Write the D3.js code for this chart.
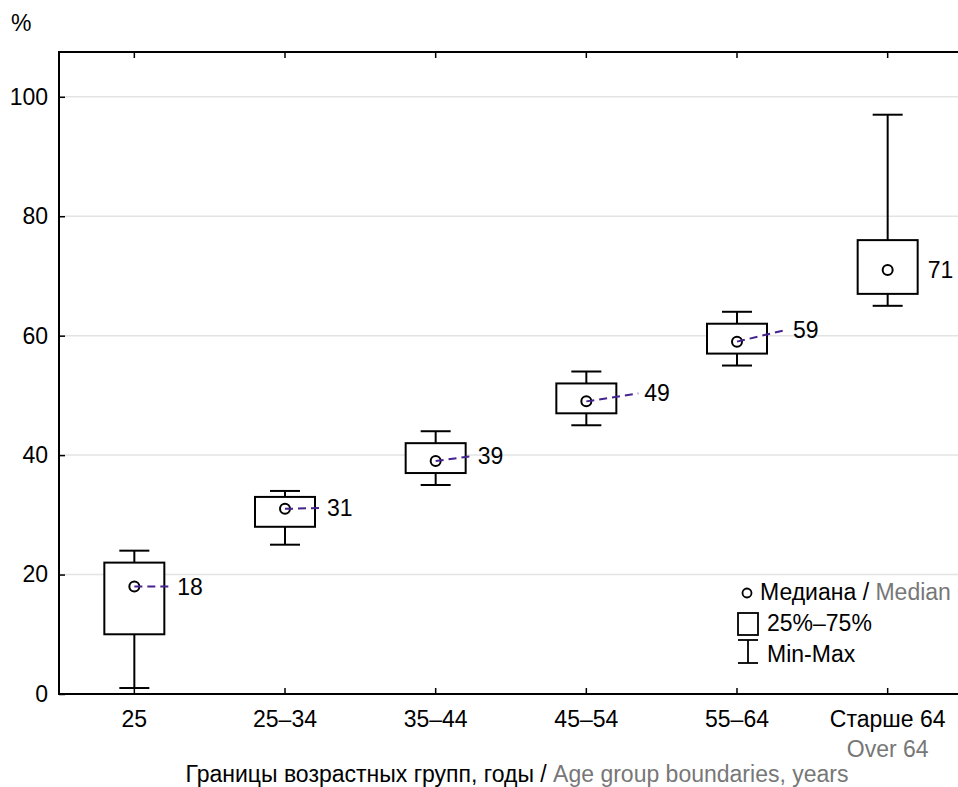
<!DOCTYPE html>
<html><head><meta charset="utf-8">
<script src="https://cdn.jsdelivr.net/npm/d3@7"></script>
<style>body{margin:0;background:#fff;} text{font-family:"Liberation Sans",Arial,sans-serif;}</style>
</head><body>
<svg id="c" width="958" height="787"></svg>
<script>
const categories = ["25", "25–34", "35–44", "45–54", "55–64", "Старше 64"];
const subLabels  = ["", "", "", "", "", "Over 64"];
const minVals    = [1, 25, 35, 45, 55, 65];
const q1Vals     = [10, 28, 37, 47, 57, 67];
const medianVals = [18, 31, 39, 49, 59, 71];
const q3Vals     = [22, 33, 42, 52, 62, 76];
const maxVals    = [24, 34, 44, 54, 64, 97];
const yTicks     = [0, 20, 40, 60, 80, 100];

// label leader layout (dx of leader end, dy) — layout, not data
const leader = [[37,0],[36,-1],[36,-5],[52,-8],[50,-12],[null,0]];

const FS = 23;
const svg = d3.select("#c");
const L = 59, R = 963, T = 52, B = 694;
const x = d3.scaleBand().domain(categories).range([L, R]).padding(0);
const y = d3.scaleLinear().domain([0, 107.5]).range([B, T]);
const cx = c => x(c) + x.bandwidth()/2;

// grid
svg.append("g").selectAll("line").data(yTicks.filter(d=>d>0)).join("line")
  .attr("x1", L).attr("x2", R).attr("y1", d=>y(d)).attr("y2", d=>y(d))
  .attr("stroke", "#e3e3e3").attr("stroke-width", 1.5);

// frame
svg.append("rect").attr("x", L).attr("y", T).attr("width", R-L).attr("height", B-T)
  .attr("fill","none").attr("stroke","#000").attr("stroke-width",2);

// y axis
const yAx = svg.append("g").attr("transform", `translate(${L},0)`)
  .call(d3.axisRight(y).tickValues(yTicks).tickSize(6).tickFormat(d3.format("d")));
yAx.select(".domain").remove();
yAx.selectAll("line").attr("stroke-width",1.5);
yAx.selectAll("text").attr("x", -11).attr("text-anchor","end").attr("font-size", FS).attr("fill","#000");

// bottom axis ticks inward
const xAx = svg.append("g").attr("transform", `translate(0,${B})`)
  .call(d3.axisTop(x).tickSize(6).tickFormat(""));
xAx.select(".domain").remove();
xAx.selectAll("line").attr("stroke-width",1.5);
const xAxT = svg.append("g").attr("transform", `translate(0,${T})`)
  .call(d3.axisBottom(x).tickSize(6).tickFormat(""));
xAxT.select(".domain").remove();
xAxT.selectAll("line").attr("stroke-width",1.5);

// category labels
svg.append("g").selectAll("text").data(categories).join("text")
  .attr("x", d=>cx(d)).attr("y", 727).attr("text-anchor","middle")
  .attr("font-size", FS).attr("fill","#000").text(d=>d);
svg.append("g").selectAll("text").data(categories.map((c,i)=>({c, s:subLabels[i]})).filter(d=>d.s)).join("text")
  .attr("x", d=>cx(d.c)).attr("y", 757).attr("text-anchor","middle")
  .attr("font-size", FS).attr("fill","#777").text(d=>d.s);

// axis title
const title = svg.append("text").attr("x", 517).attr("y", 782).attr("text-anchor","middle").attr("font-size",FS);
title.append("tspan").attr("fill","#000").text("Границы возрастных групп, годы / ");
title.append("tspan").attr("fill","#777").text("Age group boundaries, years");

svg.append("text").attr("x", 11).attr("y", 31).attr("font-size", FS).text("%");

// boxes
const bw = 60, cw = 30;
const data = categories.map((c,i)=>({c, mn:minVals[i], q1:q1Vals[i], md:medianVals[i], q3:q3Vals[i], mx:maxVals[i], ld:leader[i]}));
const g = svg.append("g").attr("stroke","#000").attr("stroke-width",2).attr("fill","none");
data.forEach(d=>{
  const X = cx(d.c);
  g.append("line").attr("x1",X).attr("x2",X).attr("y1",y(d.mx)).attr("y2",y(d.q3));
  g.append("line").attr("x1",X).attr("x2",X).attr("y1",y(d.q1)).attr("y2",y(d.mn));
  g.append("line").attr("x1",X-cw/2).attr("x2",X+cw/2).attr("y1",y(d.mx)).attr("y2",y(d.mx));
  g.append("line").attr("x1",X-cw/2).attr("x2",X+cw/2).attr("y1",y(d.mn)).attr("y2",y(d.mn));
  g.append("rect").attr("x",X-bw/2).attr("y",y(d.q3)).attr("width",bw).attr("height",y(d.q1)-y(d.q3)).attr("fill","#fff");
  g.append("circle").attr("cx",X).attr("cy",y(d.md)).attr("r",5).attr("fill","none");
  const ly = y(d.md) + d.ld[1];
  let tx;
  if (d.ld[0] !== null) {
    svg.append("line").attr("x1",X).attr("y1",y(d.md)).attr("x2",X+d.ld[0]).attr("y2",ly)
      .attr("stroke","#45228f").attr("stroke-width",2).attr("stroke-dasharray","8,5");
    tx = X + d.ld[0] + 6;
  } else {
    tx = X + 40;
  }
  svg.append("text").attr("x",tx).attr("y",ly).attr("dy","0.35em").attr("font-size",FS).attr("fill","#000").text(d.md);
});

// legend
const lg = svg.append("g");
lg.append("circle").attr("cx",747).attr("cy",593).attr("r",4.5).attr("fill","none").attr("stroke","#000").attr("stroke-width",1.8);
const lt = lg.append("text").attr("x",760).attr("y",600).attr("font-size",FS);
lt.append("tspan").attr("fill","#000").text("Медиана / ");
lt.append("tspan").attr("fill","#777").text("Median");
lg.append("rect").attr("x",738).attr("y",613).attr("width",20).attr("height",22).attr("fill","none").attr("stroke","#000").attr("stroke-width",1.8);
lg.append("text").attr("x",767).attr("y",631).attr("font-size",FS).text("25%–75%");
lg.append("line").attr("x1",738).attr("x2",758).attr("y1",640).attr("y2",640).attr("stroke","#000").attr("stroke-width",1.8);
lg.append("line").attr("x1",738).attr("x2",758).attr("y1",663).attr("y2",663).attr("stroke","#000").attr("stroke-width",1.8);
lg.append("line").attr("x1",748).attr("x2",748).attr("y1",640).attr("y2",663).attr("stroke","#000").attr("stroke-width",1.8);
lg.append("text").attr("x",767).attr("y",662).attr("font-size",FS).text("Min-Max");
</script>
</body></html>
